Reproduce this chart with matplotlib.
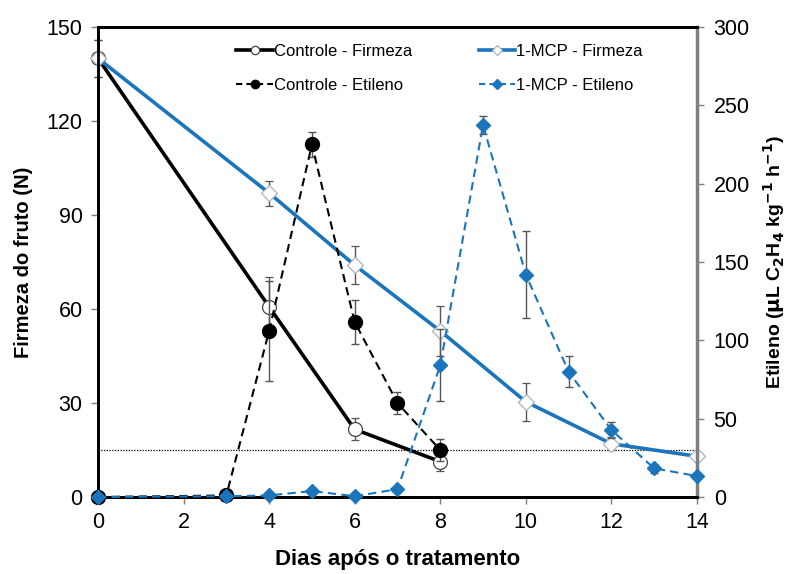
import matplotlib
matplotlib.use("Agg")
import matplotlib.pyplot as plt

plt.rcParams["font.family"] = ["Liberation Sans", "DejaVu Sans"]

BLUE = "#1a75bc"
ERR = "#555555"

# firmness (left axis, N)
days_ctrl_firm = [0, 4, 6, 8]
ctrl_firm = [140, 60.7, 21.6, 11.3]
ctrl_firm_err = [6, 9.4, 3.5, 3]

days_mcp_firm = [0, 4, 6, 8, 10, 12, 14]
mcp_firm = [140, 97, 74, 53, 30.4, 17, 13]
mcp_firm_err = [6, 4, 6, 8, 6, 2, 1]

# ethylene (right axis, uL C2H4 kg-1 h-1)
days_ctrl_eth = [0, 3, 4, 5, 6, 7, 8]
ctrl_eth = [0, 1, 106, 225, 111.7, 60, 30]
ctrl_eth_err = [0, 0, 32, 8, 14, 7, 7]

days_mcp_eth = [0, 3, 4, 5, 6, 7, 8, 9, 10, 11, 12, 13, 14]
mcp_eth = [0, 0.5, 1, 3.8, 0.5, 5, 84, 237.4, 142, 80, 42.8, 18.3, 13.4]
mcp_eth_err = [0, 0, 0, 0, 0, 0, 23, 6, 28, 10, 5, 3, 2]

threshold = 15

fig = plt.figure(figsize=(7.92, 5.74), dpi=100)
ax = fig.add_axes([0.1237, 0.1341, 0.7563, 0.8189])
ax2 = ax.twinx()

# left axis: firmness
ax.errorbar(days_ctrl_firm, ctrl_firm, yerr=ctrl_firm_err, color="black", lw=2.6,
            marker="o", ms=10, mfc="white", mec="#444444", mew=0.9,
            ecolor=ERR, elinewidth=1, capsize=3, capthick=1, clip_on=False, zorder=3)
ax.errorbar(days_mcp_firm, mcp_firm, yerr=mcp_firm_err, color=BLUE, lw=2.6,
            marker="D", ms=8, mfc="white", mec="#a8b4c4", mew=0.9,
            ecolor=ERR, elinewidth=1, capsize=3, capthick=1, clip_on=False, zorder=3)
ax.axhline(threshold, color="black", lw=0.9, ls=(0, (1, 1.2)), zorder=1)

# right axis: ethylene
ax2.errorbar(days_ctrl_eth, ctrl_eth, yerr=ctrl_eth_err, color="black", lw=1.5,
             ls=(0, (4, 2.5)), marker="o", ms=10, mfc="black", mec="black",
             ecolor=ERR, elinewidth=1, capsize=3, capthick=1, clip_on=False, zorder=3)
ax2.errorbar(days_mcp_eth, mcp_eth, yerr=mcp_eth_err, color=BLUE, lw=1.5,
             ls=(0, (4, 2.5)), marker="D", ms=7, mfc=BLUE, mec=BLUE,
             ecolor=ERR, elinewidth=1, capsize=3, capthick=1, clip_on=False, zorder=3)

ax.set_xlim(0, 14)
ax.set_ylim(0, 150)
ax2.set_ylim(0, 300)
ax.set_xticks(range(0, 15, 2))
ax.set_yticks(range(0, 151, 30))
ax2.set_yticks(range(0, 301, 50))

for s in ("left", "bottom", "top"):
    ax.spines[s].set_linewidth(2)
    ax2.spines[s].set_linewidth(2)
ax2.spines["right"].set_color("#7f7f7f")
ax2.spines["right"].set_linewidth(2.5)
ax.tick_params(labelsize=15.5, length=5, width=1, color="#7f7f7f", pad=6)
ax.tick_params(axis="x", pad=6)
ax2.tick_params(labelsize=15.5, length=5, width=1, color="#7f7f7f", pad=7)

ax.set_xlabel("Dias após o tratamento", fontsize=16, fontweight="bold", labelpad=11)
ax.set_ylabel("Firmeza do fruto (N)", fontsize=14.5, fontweight="bold", labelpad=10)
ax2.set_ylabel(r"Etileno ($\mathbf{\mu}$L C$_\mathbf{2}$H$_\mathbf{4}$ kg$^\mathbf{-1}$ h$^\mathbf{-1}$)",
               fontsize=14, fontweight="bold", labelpad=8)

h_cf, = ax.plot([], [], color="black", lw=2.6, marker="o", ms=6, mfc="white", mec="#444444", mew=0.9)
h_ce, = ax.plot([], [], color="black", lw=1.5, ls=(0, (3, 2)), marker="o", ms=6, mfc="black")
h_mf, = ax.plot([], [], color=BLUE, lw=2.6, marker="D", ms=5, mfc="white", mec="#a8b4c4", mew=0.9)
h_me, = ax.plot([], [], color=BLUE, lw=1.5, ls=(0, (3, 2)), marker="D", ms=5, mfc=BLUE, mec=BLUE)
ax2.legend([h_cf, h_ce, h_mf, h_me],
           ["Controle - Firmeza", "Controle - Etileno", "1-MCP - Firmeza", "1-MCP - Etileno"],
           ncol=2, frameon=False, fontsize=12, loc="upper center",
           bbox_to_anchor=(0.57, 0.995), columnspacing=4.0, handlelength=2.2,
           handletextpad=0.05, labelspacing=1.1)

fig.savefig("out.png", dpi=100)
